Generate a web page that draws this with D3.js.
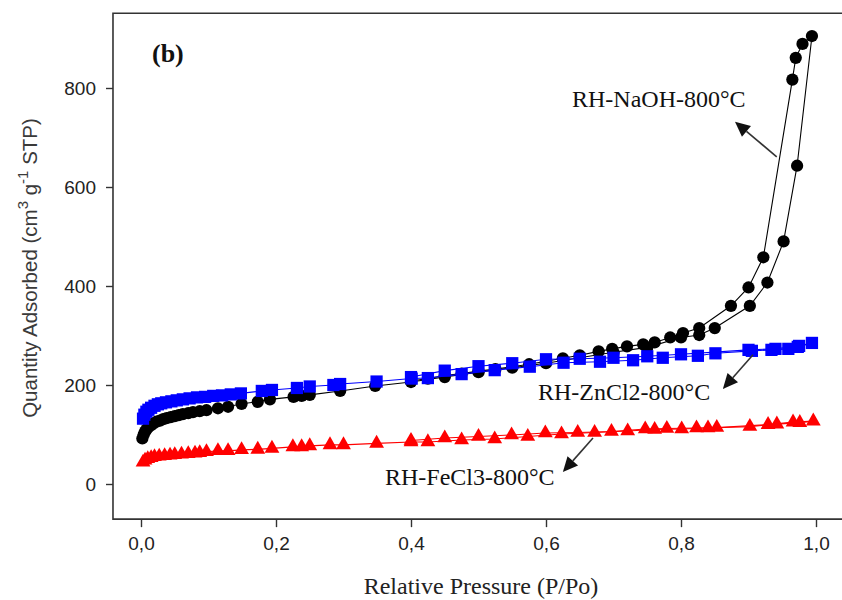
<!DOCTYPE html>
<html>
<head>
<meta charset="utf-8">
<script src="https://cdn.jsdelivr.net/npm/d3@7"></script>
<style>
  html, body { margin: 0; padding: 0; background: #fff; }
  svg { display: block; }
</style>
</head>
<body>
<svg id="chart" width="842" height="600"></svg>
<script>
// N2 adsorption / desorption isotherms of activated rice-husk carbons at 800 °C
// Each branch: [relative pressure P/Po, quantity adsorbed cm3/g STP]

const naohAdsorption = [
  [0.002, 92], [0.004, 100], [0.006, 106], [0.008, 110], [0.011, 115], [0.015, 119],
  [0.018, 122], [0.023, 126], [0.028, 128], [0.033, 131], [0.038, 133], [0.044, 135],
  [0.050, 137], [0.056, 139], [0.062, 141], [0.070, 143], [0.077, 145], [0.087, 147],
  [0.097, 149], [0.114, 153], [0.129, 156], [0.149, 162], [0.173, 166], [0.191, 171],
  [0.226, 176], [0.238, 178], [0.250, 180], [0.295, 188], [0.347, 198], [0.400, 206],
  [0.450, 216], [0.500, 226], [0.550, 235], [0.600, 244], [0.650, 255], [0.700, 266],
  [0.750, 276], [0.800, 296], [0.827, 301], [0.850, 315], [0.902, 360], [0.928, 407],
  [0.952, 490], [0.972, 643], [0.994, 905]
];
const naohDesorption = [
  [0.994, 905], [0.980, 889], [0.970, 861], [0.965, 817], [0.922, 458], [0.900, 397],
  [0.874, 360], [0.827, 315], [0.803, 305], [0.784, 296], [0.761, 286], [0.744, 282],
  [0.720, 278], [0.698, 273], [0.678, 268], [0.650, 260], [0.625, 254], [0.600, 248],
  [0.575, 242], [0.550, 237], [0.525, 232], [0.500, 228], [0.475, 223], [0.450, 219],
  [0.425, 213], [0.400, 208]
];

const zncl2Adsorption = [
  [0.003, 132], [0.005, 140], [0.008, 146], [0.011, 150], [0.015, 154], [0.020, 158],
  [0.025, 161], [0.030, 163], [0.037, 165], [0.045, 167], [0.053, 169], [0.062, 171],
  [0.072, 173], [0.083, 175], [0.095, 176], [0.107, 178], [0.120, 179], [0.133, 181],
  [0.148, 183], [0.179, 188], [0.194, 190], [0.231, 194], [0.250, 197], [0.285, 200],
  [0.295, 202], [0.349, 207], [0.401, 213], [0.425, 214], [0.475, 222], [0.524, 230],
  [0.576, 237], [0.626, 245], [0.680, 247], [0.729, 250], [0.773, 255], [0.825, 259],
  [0.851, 264], [0.905, 269], [0.934, 271], [0.959, 273], [0.973, 277], [0.994, 285]
];
const zncl2Desorption = [
  [0.994, 285], [0.975, 279], [0.940, 273], [0.900, 271], [0.800, 262], [0.750, 258],
  [0.700, 255], [0.650, 253], [0.600, 252], [0.550, 244], [0.500, 238], [0.450, 229],
  [0.400, 216]
];

const fecl3Adsorption = [
  [0.003, 44], [0.006, 48], [0.010, 51], [0.015, 53], [0.020, 55], [0.027, 56],
  [0.035, 57], [0.043, 58], [0.050, 59], [0.060, 60], [0.070, 61], [0.080, 62],
  [0.087, 63], [0.097, 65], [0.114, 67], [0.129, 67], [0.149, 69], [0.173, 70],
  [0.194, 72], [0.225, 75], [0.238, 75], [0.250, 77], [0.280, 79], [0.300, 79],
  [0.349, 82], [0.400, 85], [0.425, 85], [0.475, 89], [0.524, 91], [0.573, 96],
  [0.623, 101], [0.672, 104], [0.721, 107], [0.761, 110], [0.801, 111], [0.840, 113],
  [0.902, 116], [0.942, 121], [0.976, 124], [0.996, 127]
];
const fecl3Desorption = [
  [0.996, 127], [0.966, 125], [0.929, 120], [0.853, 114], [0.823, 113], [0.779, 112],
  [0.747, 111], [0.697, 106], [0.647, 104], [0.599, 103], [0.549, 99], [0.500, 96],
  [0.450, 93], [0.400, 88]
];

const sampleNames = ["RH-NaOH-800°C", "RH-ZnCl2-800°C", "RH-FeCl3-800°C"];
const pressureTicks = [0, 0.2, 0.4, 0.6, 0.8, 1.0];
const quantityTicks = [0, 200, 400, 600, 800];
const panelLabel = "(b)";
const xTitle = "Relative Pressure (P/Po)";

// ---- layout ----
const svg = d3.select("#chart");
const x = d3.scaleLinear().domain([0, 1]).range([141, 816]);
const y = d3.scaleLinear().domain([0, 800]).range([484, 88]);
const frame = { p0: -0.0415, p1: 1.05, q0: -71, q1: 951 };

const commaFmt = d3.formatLocale({ decimal: ",", thousands: ".", grouping: [3], currency: ["", ""] }).format(".1f");

// frame (right side runs past the canvas edge)
svg.append("path")
  .attr("d", `M${x(frame.p1)},${y(frame.q1)} H${x(frame.p0)} V${y(frame.q0)} H${x(frame.p1)}`)
  .attr("fill", "none").attr("stroke", "#333").attr("stroke-width", 1.6);

// axes
const xAxis = svg.append("g")
  .attr("transform", `translate(0,${y(frame.q0)})`)
  .call(d3.axisBottom(x).tickValues(pressureTicks).tickSize(8).tickPadding(9).tickFormat(commaFmt));
const yAxis = svg.append("g")
  .attr("transform", `translate(${x(frame.p0)},0)`)
  .call(d3.axisLeft(y).tickValues(quantityTicks).tickSize(7).tickPadding(10));
[xAxis, yAxis].forEach(g => {
  g.select(".domain").remove();
  g.selectAll(".tick line").attr("stroke", "#333").attr("stroke-width", 1.4);
  g.selectAll(".tick text")
    .attr("fill", "#222")
    .style("font-family", "'Liberation Sans', Arial, sans-serif")
    .style("font-size", "19px");
});

// axis titles
svg.append("text")
  .attr("x", 481).attr("y", 594)
  .attr("text-anchor", "middle")
  .style("font-family", "'Liberation Serif', 'Times New Roman', serif")
  .style("font-size", "24px").attr("fill", "#222")
  .text(xTitle);

const yTitle = svg.append("text")
  .attr("transform", "translate(37,268) rotate(-90)")
  .attr("text-anchor", "middle")
  .style("font-family", "'Liberation Sans', Arial, sans-serif")
  .style("font-size", "20.5px").attr("fill", "#3a3a3a");
yTitle.append("tspan").text("Quantity Adsorbed (cm");
yTitle.append("tspan").attr("dy", -9).style("font-size", "15px").text("3");
yTitle.append("tspan").attr("dy", 9).text(" g");
yTitle.append("tspan").attr("dy", -9).style("font-size", "15px").text("-1");
yTitle.append("tspan").attr("dy", 9).text(" STP)");

// panel label
svg.append("text")
  .attr("x", 152).attr("y", 62)
  .style("font-family", "'Liberation Serif', 'Times New Roman', serif")
  .style("font-size", "26px").style("font-weight", "bold").attr("fill", "#111")
  .text(panelLabel);

// ---- series ----
const line = d3.line().x(d => x(d[0])).y(d => y(d[1]));
const plot = svg.append("g");

function drawSeries(ads, des, color, symbol, size) {
  const g = plot.append("g");
  [ads, des].forEach(branch => {
    g.append("path").datum(branch)
      .attr("d", line).attr("fill", "none")
      .attr("stroke", color).attr("stroke-width", 1.1);
  });
  const sym = d3.symbol().type(symbol).size(size);
  g.selectAll("path.pt")
    .data(ads.concat(des.slice(1)))
    .join("path")
    .attr("class", "pt")
    .attr("transform", d => `translate(${x(d[0])},${y(d[1])})`)
    .attr("d", sym)
    .attr("fill", color);
}

drawSeries(fecl3Adsorption, fecl3Desorption, "#ff0000", d3.symbolTriangle, 95);
drawSeries(naohAdsorption, naohDesorption, "#000000", d3.symbolCircle, 118);
drawSeries(zncl2Adsorption, zncl2Desorption, "#0000ff", d3.symbolSquare, 150);

// ---- annotations: label + arrow pointing toward it ----
const notes = [
  { name: sampleNames[0], at: [0.6385, 761], tail: [0.9418, 661], tip: [0.880, 732] },
  { name: sampleNames[1], at: [0.588, 170], tail: [0.9067, 261], tip: [0.862, 192] },
  { name: sampleNames[2], at: [0.3615, -2], tail: [0.6696, 93], tip: [0.625, 24] }
];

notes.forEach(n => {
  svg.append("text")
    .attr("x", x(n.at[0])).attr("y", y(n.at[1]))
    .style("font-family", "'Liberation Serif', 'Times New Roman', serif")
    .style("font-size", "24px").attr("fill", "#111")
    .text(n.name);

  const x1 = x(n.tail[0]), y1 = y(n.tail[1]);
  const x2 = x(n.tip[0]), y2 = y(n.tip[1]);
  const ang = Math.atan2(y2 - y1, x2 - x1);
  const headLen = 15, headHalf = 7;
  const bx = x2 - headLen * Math.cos(ang), by = y2 - headLen * Math.sin(ang);
  svg.append("line")
    .attr("x1", x1).attr("y1", y1).attr("x2", bx).attr("y2", by)
    .attr("stroke", "#333").attr("stroke-width", 1.6);
  const px = -Math.sin(ang), py = Math.cos(ang);
  svg.append("path")
    .attr("d", `M${x2},${y2} L${bx + headHalf * px},${by + headHalf * py} L${bx - headHalf * px},${by - headHalf * py} Z`)
    .attr("fill", "#111");
});
</script>
</body>
</html>
